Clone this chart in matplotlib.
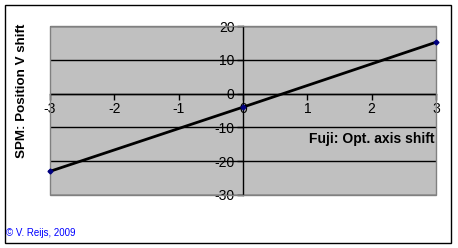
import matplotlib
matplotlib.use("Agg")
from matplotlib import pyplot as plt
from matplotlib.patches import Rectangle

# data
fuji_shift = [-3, 0, 3]
spm_shift = [-23.0, -4.0, 15.2]
x_ticks = [-3, -2, -1, 0, 1, 2, 3]
y_ticks = [-30, -20, -10, 0, 10, 20]

plt.rcParams['font.family'] = ['Liberation Sans', 'DejaVu Sans']
plt.rcParams['axes.unicode_minus'] = False

fig = plt.figure(figsize=(4.58, 2.48), dpi=100)
ax = fig.add_axes([50/458, 1-195/248, (436-50)/458, (195-26)/248])
ax.set_facecolor('#c0c0c0')

ax.plot(fuji_shift, spm_shift, color='black', lw=2, zorder=3, clip_on=False)
ax.plot(fuji_shift, spm_shift, ls='none', marker='D', ms=2.5, color='#000080',
        zorder=6, clip_on=False)

ax.set_xlim(-3, 3)
ax.set_ylim(-30, 20)
ax.set_xticks(x_ticks)
ax.set_yticks(y_ticks)
ax.yaxis.grid(True, color='black', lw=1)
ax.set_axisbelow(True)

ax.spines['left'].set_position(('data', 0))
ax.spines['bottom'].set_position(('data', 0))
ax.spines['top'].set_visible(False)
ax.spines['right'].set_visible(False)
for s in ('left', 'bottom'):
    ax.spines[s].set_color('black')
    ax.spines[s].set_linewidth(1)
ax.tick_params(direction='out', length=4, width=1, labelsize=10, pad=2)
ax.add_patch(Rectangle((0, 0), 1, 1, transform=ax.transAxes, fill=False,
                       edgecolor='#808080', lw=1, zorder=5, clip_on=False))

ax.text(2.98, -13.5, 'Fuji: Opt. axis shift', ha='right', va='center',
        fontsize=10, fontweight='bold')
fig.text(22/458, 1-91/248, 'SPM: Position V shift', rotation=90, ha='center',
         va='center', fontsize=9.6, fontweight='bold')
fig.text(6/458, 1-233/248, '\u00a9 V. Reijs, 2009', color='#0000ff', fontsize=7,
         ha='left', va='center')

fig.add_artist(Rectangle((5/458, 5/248), 446/458, 238/248, transform=fig.transFigure,
                         fill=False, edgecolor='black', lw=1))

fig.savefig('out.png', dpi=100)
